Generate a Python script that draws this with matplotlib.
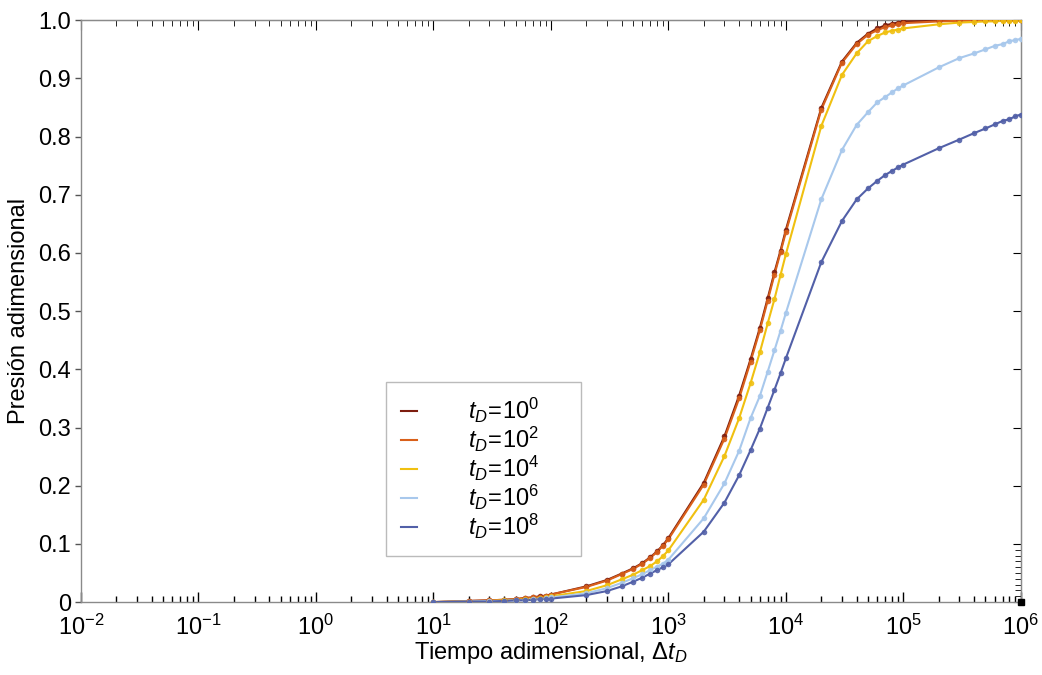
import numpy as np
import matplotlib
matplotlib.use("Agg")
import matplotlib.pyplot as plt
from matplotlib.ticker import LogLocator, FixedLocator, NullFormatter

plt.rcParams['font.family'] = ['Liberation Sans', 'DejaVu Sans']
plt.rcParams['mathtext.fontset'] = 'custom'
plt.rcParams['mathtext.rm'] = 'Liberation Sans'
plt.rcParams['mathtext.it'] = 'Liberation Sans:italic'

# sample times (1..9 x 10^k, from 10 to 10^6)
dt = [10, 20, 30, 40, 50, 60, 70, 80, 90,
      100, 200, 300, 400, 500, 600, 700, 800, 900,
      1e3, 2e3, 3e3, 4e3, 5e3, 6e3, 7e3, 8e3, 9e3,
      1e4, 2e4, 3e4, 4e4, 5e4, 6e4, 7e4, 8e4, 9e4,
      1e5, 2e5, 3e5, 4e5, 5e5, 6e5, 7e5, 8e5, 9e5, 1e6]

p_td0 = [0.000, 0.002, 0.003, 0.004, 0.005, 0.007, 0.008, 0.010, 0.011,
         0.013, 0.027, 0.038, 0.049, 0.058, 0.067, 0.077, 0.087, 0.098,
         0.110, 0.205, 0.285, 0.355, 0.417, 0.471, 0.522, 0.567, 0.604,
         0.640, 0.849, 0.929, 0.961, 0.977, 0.986, 0.991, 0.994, 0.996,
         0.998, 0.999, 1.000, 1.000, 1.000, 1.000, 1.000, 1.000, 1.000, 1.000]

p_td2 = [0.000, 0.002, 0.003, 0.004, 0.005, 0.007, 0.008, 0.009, 0.011,
         0.013, 0.026, 0.037, 0.048, 0.057, 0.066, 0.076, 0.086, 0.097,
         0.108, 0.202, 0.281, 0.350, 0.413, 0.467, 0.518, 0.563, 0.601,
         0.636, 0.846, 0.927, 0.959, 0.975, 0.983, 0.988, 0.991, 0.993,
         0.995, 0.998, 0.999, 1.000, 1.000, 1.000, 1.000, 1.000, 1.000, 1.000]

p_td4 = [0.000, 0.001, 0.002, 0.003, 0.004, 0.005, 0.006, 0.007, 0.008,
         0.010, 0.019, 0.029, 0.039, 0.047, 0.055, 0.062, 0.070, 0.079,
         0.089, 0.176, 0.251, 0.316, 0.376, 0.429, 0.479, 0.521, 0.562,
         0.598, 0.818, 0.906, 0.943, 0.964, 0.973, 0.979, 0.982, 0.984,
         0.986, 0.993, 0.996, 0.997, 0.998, 0.998, 0.999, 0.999, 0.999, 1.000]

p_td6 = [0.000, 0.001, 0.002, 0.002, 0.003, 0.004, 0.005, 0.006, 0.007,
         0.008, 0.015, 0.024, 0.033, 0.041, 0.048, 0.055, 0.061, 0.066,
         0.073, 0.144, 0.204, 0.260, 0.316, 0.354, 0.396, 0.433, 0.466,
         0.497, 0.692, 0.777, 0.820, 0.842, 0.859, 0.868, 0.876, 0.883,
         0.888, 0.919, 0.935, 0.943, 0.950, 0.956, 0.959, 0.964, 0.966, 0.968]

p_td8 = [0.000, 0.001, 0.001, 0.002, 0.003, 0.003, 0.004, 0.005, 0.006,
         0.006, 0.012, 0.019, 0.027, 0.035, 0.042, 0.049, 0.055, 0.060,
         0.065, 0.121, 0.171, 0.218, 0.261, 0.298, 0.334, 0.365, 0.393,
         0.419, 0.584, 0.655, 0.692, 0.711, 0.724, 0.734, 0.741, 0.747,
         0.752, 0.780, 0.795, 0.806, 0.814, 0.821, 0.827, 0.830, 0.835, 0.838]

labels = [r'$t_D\!=\!10^0$', r'$t_D\!=\!10^2$', r'$t_D\!=\!10^4$',
          r'$t_D\!=\!10^6$', r'$t_D\!=\!10^8$']
colors = ['#7d1d0f', '#d9601a', '#f0c010', '#a8c8ec', '#5260a8']
series = [p_td0, p_td2, p_td4, p_td6, p_td8]

fig = plt.figure(figsize=(10.42, 6.75), dpi=100)
ax = fig.add_axes([0.0777, 0.108, 0.902, 0.862])

lines = []
for y, c, lab in zip(series, colors, labels):
    ax.plot(dt, y, color=c, lw=1.5, zorder=3)
    ax.plot(dt, y, 'o', color=c, ms=4, mec='none', alpha=0.9, zorder=4)
    # trailing spaces widen the legend box like the original
    lines.append(plt.Line2D([], [], color=c, lw=1.5, label=lab + '     '))

# little black square at the corner, as in the original
ax.plot([1e6], [0], 's', color='black', ms=5, clip_on=False, zorder=6)

ax.set_xscale('log')
ax.set_xlim(1e-2, 1e6)
ax.set_ylim(0, 1.0)
ax.set_xticks([10.0**k for k in range(-2, 7)])
ax.set_xticklabels([r'$10^{%d}$' % k for k in range(-2, 7)])
ax.xaxis.set_minor_locator(LogLocator(base=10, subs=np.arange(2, 10)))
ax.xaxis.set_minor_formatter(NullFormatter())
ax.set_yticks(np.arange(0, 1.01, 0.1))
ax.set_yticklabels(['0'] + ['%.1f' % v for v in np.arange(0.1, 1.01, 0.1)])

for s in ax.spines.values():
    s.set_color('#8a8a8a')
    s.set_linewidth(1.0)

ax.tick_params(axis='y', which='major', direction='out', length=4, width=1,
               color='#555555', labelsize=17, pad=3)
ax.tick_params(axis='x', which='major', direction='in', length=7, width=1,
               color='black', labelsize=17, pad=9)
ax.tick_params(axis='x', which='minor', direction='in', length=4, width=1,
               color='black')

# top frame ticks
top = ax.secondary_xaxis('top')
top.set_xticks([10.0**k for k in range(-2, 7)])
top.xaxis.set_minor_locator(LogLocator(base=10, subs=np.arange(2, 10)))
top.xaxis.set_minor_formatter(NullFormatter())
top.tick_params(which='major', direction='in', length=7, labeltop=False)
top.tick_params(which='minor', direction='in', length=4)
top.spines['top'].set_color('#8a8a8a')

# right frame ticks
right = ax.secondary_yaxis('right')
right.set_yticks(np.arange(0, 1.01, 0.1))
right.yaxis.set_minor_locator(FixedLocator(np.arange(0.01, 0.1, 0.01)))
right.tick_params(which='major', direction='in', length=6, labelright=False)
right.tick_params(which='minor', direction='in', length=4)
right.spines['right'].set_color('#8a8a8a')

ax.set_xlabel(r'Tiempo adimensional, $\Delta t_D$', fontsize=17, labelpad=0)
ax.set_ylabel('Presión adimensional', fontsize=17, labelpad=6)

leg = ax.legend(handles=lines, loc='lower left', bbox_to_anchor=(0.325, 0.08),
                fontsize=17, frameon=True, fancybox=False, handlelength=0.7,
                handletextpad=2.15, labelspacing=0.0, borderpad=0.6,
                borderaxespad=0)
leg.get_frame().set_edgecolor('#aaaaaa')
leg.get_frame().set_linewidth(1.0)

fig.savefig('out.png', dpi=100)
